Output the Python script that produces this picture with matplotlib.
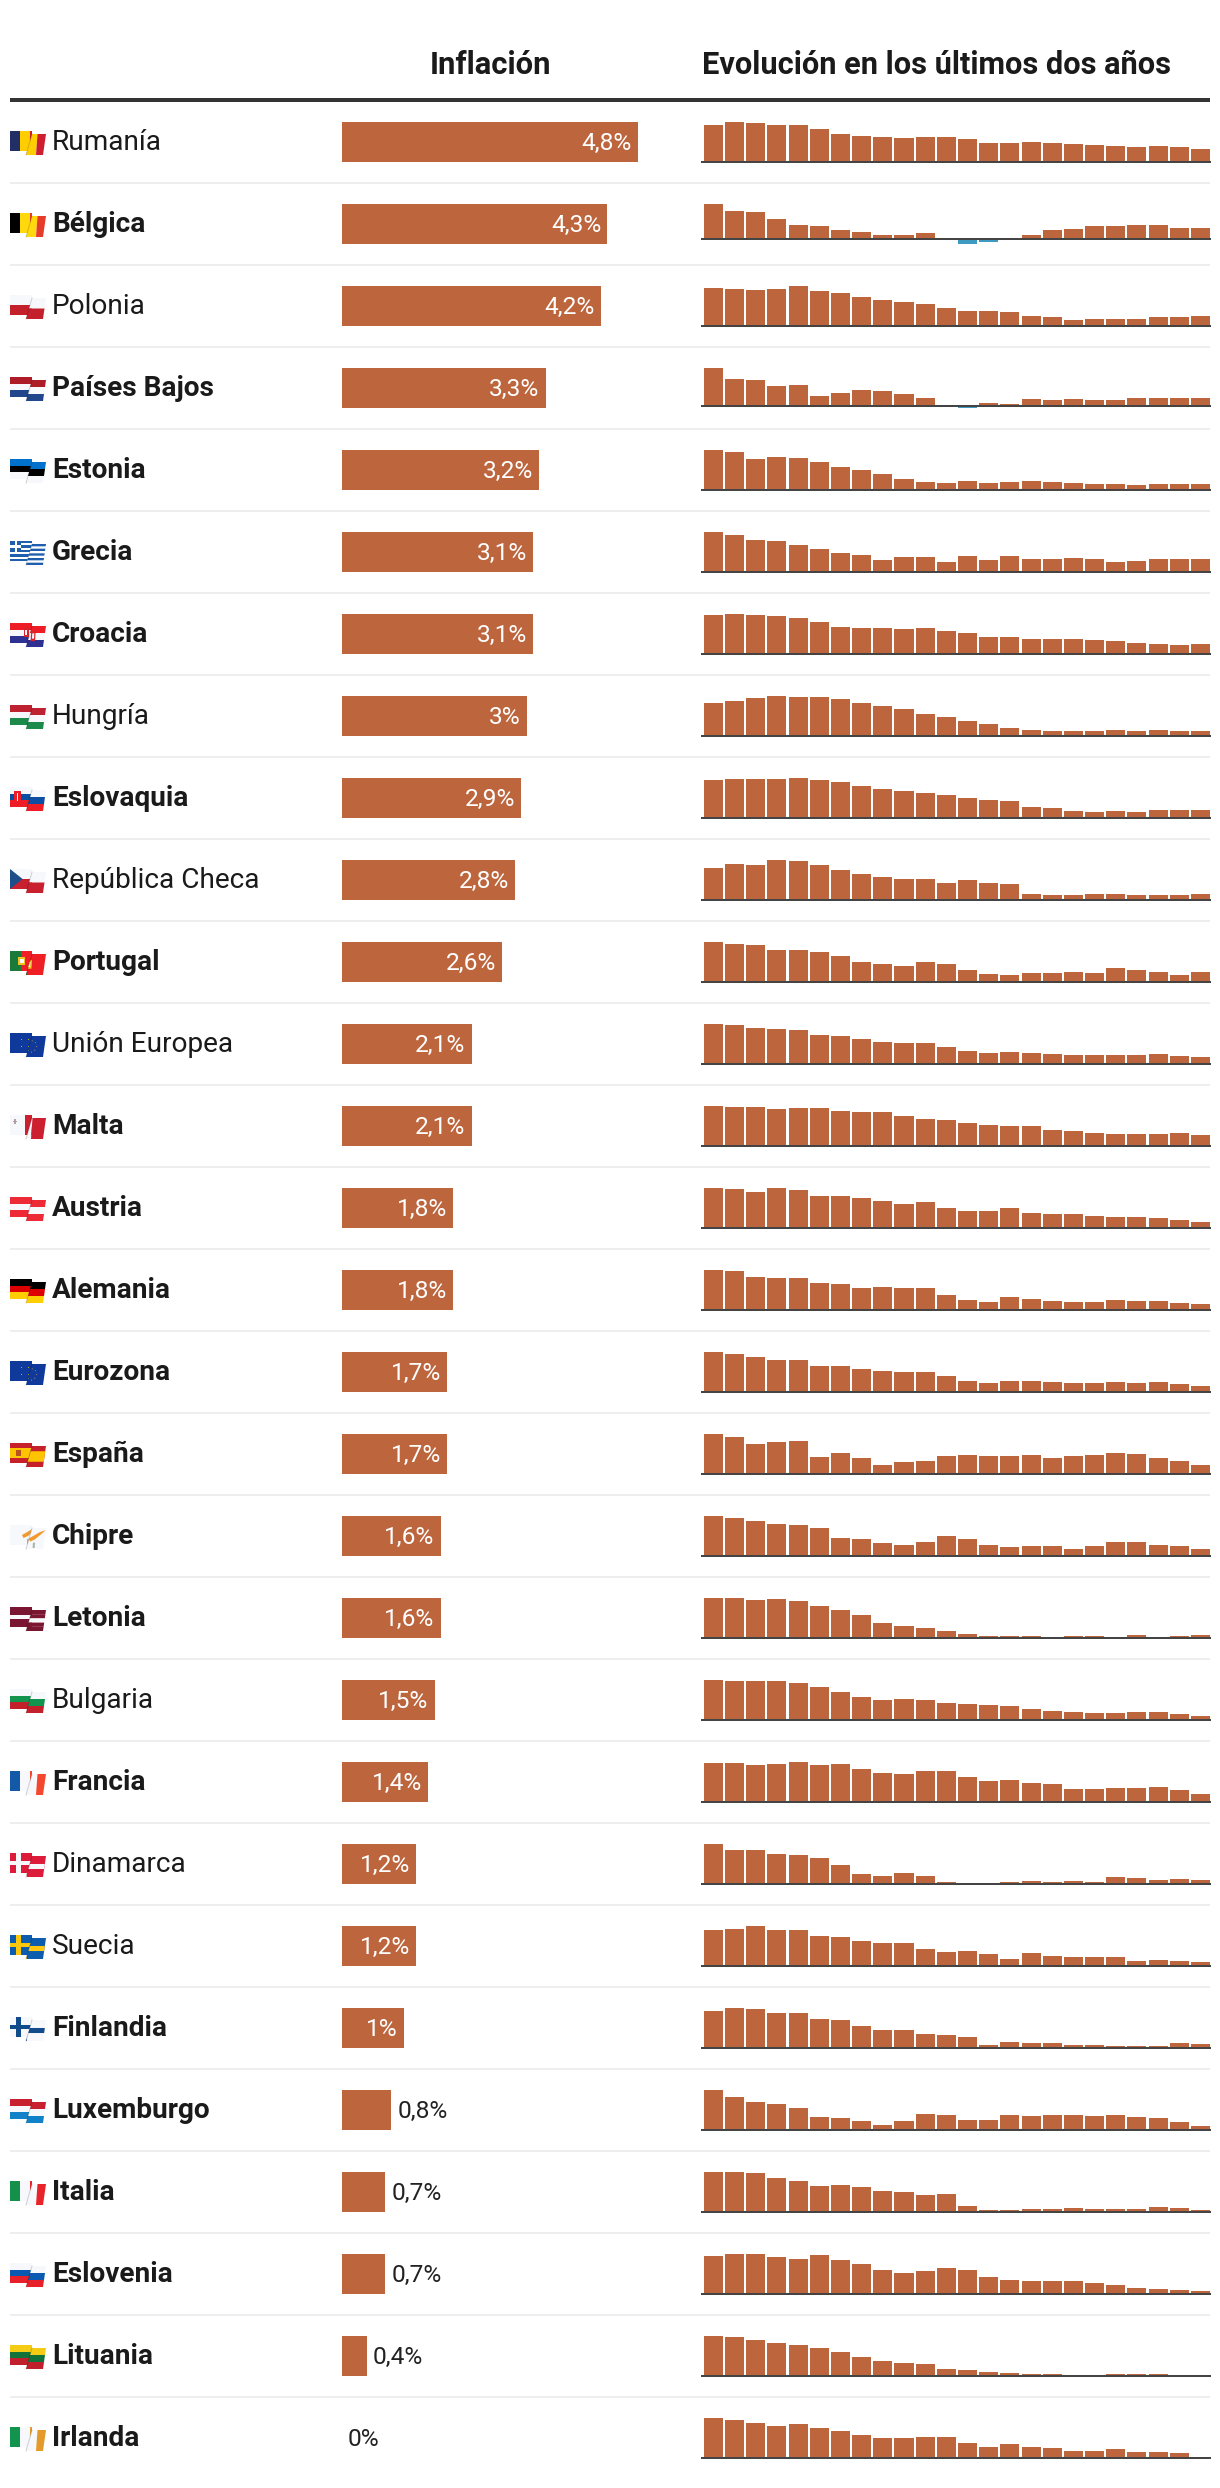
import matplotlib
matplotlib.use('Agg')
import matplotlib.pyplot as plt
from matplotlib.patches import Polygon

plt.rcParams['font.family'] = ['Roboto', 'DejaVu Sans']

# ======================================================================
# Data
# ======================================================================
countries = ['Rumanía', 'Bélgica', 'Polonia', 'Países Bajos', 'Estonia', 'Grecia', 'Croacia', 'Hungría',
             'Eslovaquia', 'República Checa', 'Portugal', 'Unión Europea', 'Malta', 'Austria', 'Alemania',
             'Eurozona', 'España', 'Chipre', 'Letonia', 'Bulgaria', 'Francia', 'Dinamarca', 'Suecia',
             'Finlandia', 'Luxemburgo', 'Italia', 'Eslovenia', 'Lituania', 'Irlanda']
regular_names = ['Rumanía', 'Polonia', 'Hungría', 'República Checa', 'Unión Europea', 'Bulgaria', 'Dinamarca', 'Suecia']
inflation = [4.8, 4.3, 4.2, 3.3, 3.2, 3.1, 3.1, 3.0, 2.9, 2.8, 2.6, 2.1, 2.1, 1.8, 1.8, 1.7, 1.7, 1.6, 1.6,
             1.5, 1.4, 1.2, 1.2, 1.0, 0.8, 0.7, 0.7, 0.4, 0.0]
inflation_labels = ['4,8%', '4,3%', '4,2%', '3,3%', '3,2%', '3,1%', '3,1%', '3%', '2,9%', '2,8%', '2,6%', '2,1%',
                    '2,1%', '1,8%', '1,8%', '1,7%', '1,7%', '1,6%', '1,6%', '1,5%', '1,4%', '1,2%', '1,2%', '1%',
                    '0,8%', '0,7%', '0,7%', '0,4%', '0%']

# Bar heights read off the sparklines (no axis in the picture, so relative units)
rumania = [37, 40, 39, 37, 37, 33, 28, 26, 25, 24, 25, 25, 23, 19, 19, 20, 19, 18, 17, 16, 15, 16, 15, 13]
belgica = [35, 28, 27, 20, 14, 13, 9, 7, 4, 4, 6, 0, -5, -3, 0, 4, 9, 10, 13, 13, 14, 14, 11, 11]
polonia = [38, 37, 36, 37, 40, 35, 33, 29, 26, 24, 22, 18, 15, 15, 14, 10, 9, 6, 7, 7, 7, 9, 9, 10]
paises_bajos = [37, 26, 25, 19, 20, 10, 13, 16, 15, 12, 8, 0, -2, 3, 2, 7, 6, 7, 6, 6, 8, 8, 8, 8]
estonia = [40, 38, 31, 33, 32, 28, 23, 20, 16, 11, 8, 7, 9, 7, 8, 9, 8, 7, 6, 6, 5, 6, 6, 6]
grecia = [40, 37, 32, 31, 27, 23, 19, 17, 12, 15, 15, 10, 16, 12, 16, 13, 13, 14, 13, 10, 11, 13, 13, 13]
croacia = [39, 40, 39, 38, 36, 32, 27, 26, 26, 25, 26, 23, 21, 17, 17, 15, 15, 15, 14, 13, 11, 10, 9, 10]
hungria = [33, 35, 38, 40, 39, 39, 37, 33, 30, 27, 22, 19, 15, 12, 8, 6, 5, 5, 5, 6, 5, 6, 5, 5]
eslovaquia = [38, 39, 39, 39, 40, 38, 36, 32, 29, 27, 25, 23, 20, 18, 17, 11, 10, 7, 6, 7, 6, 8, 8, 8]
rep_checa = [32, 36, 35, 40, 39, 35, 30, 26, 23, 21, 21, 17, 20, 17, 16, 6, 5, 5, 6, 6, 5, 5, 5, 6]
portugal = [40, 38, 37, 32, 32, 30, 26, 20, 18, 16, 20, 18, 12, 8, 7, 9, 9, 10, 9, 14, 12, 10, 7, 10]
union_europea = [40, 39, 36, 35, 34, 29, 28, 25, 22, 21, 21, 17, 13, 11, 12, 11, 10, 9, 9, 9, 9, 10, 8, 7]
malta = [40, 39, 39, 37, 38, 38, 35, 34, 34, 30, 27, 26, 23, 21, 20, 20, 16, 15, 13, 12, 12, 12, 13, 11]
austria = [40, 39, 36, 40, 38, 32, 32, 30, 27, 24, 26, 20, 17, 17, 20, 15, 14, 14, 12, 11, 11, 10, 8, 6]
alemania = [40, 39, 33, 32, 32, 27, 26, 22, 23, 22, 22, 15, 10, 8, 13, 11, 9, 8, 8, 10, 9, 9, 7, 6]
eurozona = [40, 38, 35, 32, 32, 26, 26, 23, 21, 20, 20, 16, 11, 9, 11, 11, 10, 9, 9, 10, 9, 10, 8, 6]
espana = [40, 37, 30, 32, 33, 17, 21, 16, 9, 12, 13, 18, 19, 18, 18, 19, 16, 18, 19, 21, 20, 16, 13, 9]
chipre = [40, 38, 35, 32, 31, 28, 18, 17, 13, 11, 14, 20, 17, 11, 9, 10, 10, 7, 10, 14, 14, 11, 10, 7]
letonia = [40, 40, 38, 39, 37, 32, 28, 23, 15, 12, 10, 7, 4, 2, 2, 2, 0, 2, 2, 0, 3, 0, 2, 3]
bulgaria = [40, 39, 39, 39, 37, 33, 28, 23, 20, 21, 20, 17, 16, 15, 14, 11, 9, 8, 7, 7, 8, 8, 6, 4]
francia = [39, 39, 37, 38, 40, 37, 38, 33, 29, 28, 31, 31, 25, 21, 22, 19, 18, 13, 13, 14, 14, 15, 12, 8]
dinamarca = [39, 33, 33, 29, 28, 25, 19, 10, 8, 11, 8, 2, 0, 0, 2, 3, 2, 3, 2, 7, 6, 4, 5, 4]
suecia = [36, 37, 40, 36, 36, 30, 29, 25, 23, 23, 17, 14, 15, 12, 7, 13, 10, 9, 9, 9, 5, 6, 5, 4]
finlandia = [37, 40, 39, 35, 35, 29, 28, 22, 18, 18, 14, 13, 11, 3, 6, 5, 5, 3, 3, 2, 2, 2, 5, 4]
luxemburgo = [40, 33, 28, 26, 22, 13, 12, 9, 5, 9, 16, 15, 10, 10, 15, 14, 15, 15, 14, 15, 13, 12, 8, 4]
italia = [40, 40, 39, 34, 31, 26, 27, 25, 21, 20, 17, 18, 6, 2, 2, 3, 3, 4, 3, 3, 3, 5, 4, 2]
eslovenia = [38, 40, 40, 37, 35, 39, 34, 30, 24, 21, 23, 26, 24, 17, 14, 13, 13, 13, 11, 9, 6, 5, 4, 3]
lituania = [40, 39, 36, 33, 31, 28, 24, 19, 15, 13, 12, 7, 6, 4, 3, 2, 2, 0, 0, 2, 2, 2, 0, 0]
irlanda = [40, 38, 35, 32, 34, 30, 27, 23, 20, 20, 21, 21, 15, 11, 14, 11, 10, 7, 7, 9, 6, 6, 5, 0]
evolution = [rumania, belgica, polonia, paises_bajos, estonia, grecia, croacia, hungria, eslovaquia, rep_checa,
             portugal, union_europea, malta, austria, alemania, eurozona, espana, chipre, letonia, bulgaria,
             francia, dinamarca, suecia, finlandia, luxemburgo, italia, eslovenia, lituania, irlanda]

# ======================================================================
# Style and layout (pixels)
# ======================================================================
WIDTH, HEIGHT = 1220, 2488
BAR_COLOR = '#BD653D'
NEG_COLOR = '#3F9AC2'
TEXT_COLOR = '#1a1a1a'
WHITE = '#f6f8fb'
ROW_PITCH = 82
FIRST_ROW = 142
BAR_HEIGHT = 40
PX = 0.72  # points per pixel at dpi 100


def add_axes_px(fig, x0, y0, x1, y1):
    return fig.add_axes([x0 / WIDTH, 1 - y1 / HEIGHT, (x1 - x0) / WIDTH, (y1 - y0) / HEIGHT])


# ======================================================================
# Flags: each one is a list of (colour, polygon) in a 0-1 square
# ======================================================================
def rect(u0, v0, u1, v1):
    return [(u0, v0), (u1, v0), (u1, v1), (u0, v1)]


def hstripes(*colors):
    n = len(colors)
    return [(c, rect(0, k / n, 1, (k + 1) / n)) for k, c in enumerate(colors)]


def vstripes(*colors):
    n = len(colors)
    return [(c, rect(k / n, 0, (k + 1) / n, 1)) for k, c in enumerate(colors)]


def nordic(field, cross, inner=None):
    layers = [(field, rect(0, 0, 1, 1)), (cross, rect(0.2, 0, 0.36, 1)), (cross, rect(0, 0.38, 1, 0.62))]
    if inner:
        layers += [(inner, rect(0.25, 0, 0.31, 1)), (inner, rect(0, 0.45, 1, 0.55))]
    return layers


def eu_flag():
    gold = [(0.5 + 0.055 * dx, 0.5 + 0.09 * dy) for dx, dy in [(0, -3), (2, -2), (3, 0), (2, 2), (0, 3), (-2, 2), (-3, 0), (-2, -2)]]
    layers = [('#0F3A9C', rect(0, 0, 1, 1))]
    for x, y in gold:
        layers.append(('#C9A63A', rect(x - 0.012, y - 0.025, x + 0.012, y + 0.025)))
    return layers


greece = [('#ffffff', rect(0, 0, 1, 1))]
for k in range(0, 9, 2):
    greece.append(('#1F5FAE', rect(0, k / 9, 1, (k + 1) / 9)))
greece += [('#1F5FAE', rect(0, 0, 0.38, 5 / 9)), ('#ffffff', rect(0.15, 0, 0.23, 5 / 9)), ('#ffffff', rect(0, 2 / 9, 0.38, 3 / 9))]

flags = [
    vstripes('#222E66', '#FFCE00', '#CE1F32'),
    vstripes('#000000', '#FFD90C', '#E63B2A'),
    hstripes(WHITE, '#C4202C'),
    hstripes('#AE1C28', WHITE, '#21468B'),
    hstripes('#0072CE', '#000000', WHITE),
    greece,
    hstripes('#EE1C25', WHITE, '#2E3192') + [('#D8232A', rect(0.47, 0.25, 0.62, 0.72)), (WHITE, rect(0.51, 0.35, 0.58, 0.6))],
    hstripes('#BE2130', WHITE, '#1B8A4A'),
    hstripes(WHITE, '#0B4EA2', '#EE1C25') + [('#EE1C25', rect(0.12, 0.2, 0.36, 0.8)), (WHITE, rect(0.22, 0.28, 0.26, 0.7))],
    hstripes(WHITE, '#C8202E') + [('#1D4E89', [(0, 0), (0.42, 0.5), (0, 1)])],
    [('#EE2025', rect(0, 0, 1, 1)), ('#1A7A3A', rect(0, 0, 0.37, 1)), ('#F0C420', rect(0.27, 0.3, 0.5, 0.7)), (WHITE, rect(0.32, 0.38, 0.45, 0.62))],
    eu_flag(),
    vstripes(WHITE, '#CC1F30') + [('#B0A0A0', rect(0.14, 0.2, 0.19, 0.45)), ('#B0A0A0', rect(0.1, 0.29, 0.23, 0.36))],
    hstripes('#EE2A36', WHITE, '#EE2A36'),
    hstripes('#000000', '#DD0000', '#FFCE00'),
    eu_flag(),
    [('#C6202A', rect(0, 0, 1, 1)), ('#FFC400', rect(0, 0.25, 1, 0.75)), ('#B5521E', rect(0.2, 0.35, 0.36, 0.65))],
    [(WHITE, rect(0, 0, 1, 1)), ('#F09A2D', [(0.4, 0.5), (0.75, 0.2), (0.95, 0.1), (0.8, 0.3), (0.6, 0.55), (0.45, 0.65)]),
     ('#A9B5A9', rect(0.55, 0.7, 0.62, 0.95))],
    hstripes('#7A1632', '#7A1632', WHITE, '#7A1632', '#7A1632'),
    hstripes(WHITE, '#12944F', '#C4202C'),
    vstripes('#1458A8', WHITE, '#F4472E'),
    nordic('#DD1C3C', WHITE),
    nordic('#0C5DAE', '#FFC80E'),
    nordic(WHITE, '#114B8C'),
    hstripes('#C8202E', WHITE, '#1181C8'),
    vstripes('#14904A', WHITE, '#E8232A'),
    hstripes(WHITE, '#0B59B0', '#E8202A'),
    hstripes('#F4CC14', '#12733A', '#C0202C'),
    vstripes('#12944F', WHITE, '#E49A2A'),
]


def draw_panel(ax, corners, to_px, layers):
    clip = Polygon(corners, closed=True, facecolor='none', edgecolor='none', transform=ax.transData)
    ax.add_patch(clip)
    for color, poly in layers:
        patch = Polygon([to_px(u, v) for u, v in poly], closed=True, facecolor=color, edgecolor='none')
        ax.add_patch(patch)
        patch.set_clip_path(clip)


def draw_flag(ax, top, layers):
    # the icon is a waving flag: a flat left piece and a skewed right piece a bit lower
    draw_panel(ax, [(10, top), (32, top), (32, top + 20), (10, top + 20)],
               lambda u, v: (10 + 30 * u, top + 20 * v), layers)
    draw_panel(ax, [(32, top + 3), (46, top + 3), (43, top + 24), (26, top + 24)],
               lambda u, v: (16 + 30 * u + 1.5 * (1 - v), top + 3 + 21 * v), layers)
    ax.plot([32, 26], [top + 3, top + 24], color='#000000', alpha=0.15, lw=0.8)


# ======================================================================
# Figure
# ======================================================================
fig = plt.figure(figsize=(WIDTH / 100, HEIGHT / 100), dpi=100, facecolor='white')

# Page layer in pixel coordinates: header, rules, names and flags
page = fig.add_axes([0, 0, 1, 1])
page.set_xlim(0, WIDTH)
page.set_ylim(HEIGHT, 0)
page.axis('off')

page.text(490, 74, 'Inflación', fontsize=31 * PX, fontweight='bold', color=TEXT_COLOR, ha='center', va='baseline')
page.text(702, 74, 'Evolución en los últimos dos años', fontsize=30.8 * PX, fontweight='bold', color=TEXT_COLOR,
          ha='left', va='baseline')
page.plot([10, 1210], [100, 100], color='#333333', lw=4 * PX, solid_capstyle='butt')

for i, name in enumerate(countries):
    center = FIRST_ROW + i * ROW_PITCH
    weight = 'regular' if name in regular_names else 'bold'
    page.text(52, center + 8, name, fontsize=28 * PX, fontweight=weight, color=TEXT_COLOR, ha='left', va='baseline')
    draw_flag(page, center - 11, flags[i])
    if i < len(countries) - 1:
        page.plot([10, 1210], [center + 41, center + 41], color='#eeeeee', lw=2 * PX, solid_capstyle='butt')

# Inflation bars
bars_ax = add_axes_px(fig, 342, FIRST_ROW - ROW_PITCH / 2, 640, FIRST_ROW + 28.5 * ROW_PITCH)
bars_ax.patch.set_alpha(0)
bars_ax.barh(range(len(inflation)), inflation, height=BAR_HEIGHT / ROW_PITCH, color=BAR_COLOR, linewidth=0)
bars_ax.set_xlim(0, 298 / 61.7)
bars_ax.set_ylim(len(inflation) - 0.5, -0.5)
bars_ax.axis('off')
for i, (value, label) in enumerate(zip(inflation, inflation_labels)):
    inside = value >= 1
    bars_ax.annotate(label, (value, i), xytext=((-6 if inside else 6) * PX, -8 * PX), textcoords='offset points',
                     ha='right' if inside else 'left', va='baseline', fontsize=24.5 * PX,
                     color='white' if inside else '#222222', annotation_clip=False)

# Sparklines: every row has its own scale, filling the same 40 px
for i, values in enumerate(evolution):
    top = FIRST_ROW - BAR_HEIGHT / 2 + i * ROW_PITCH
    ax = add_axes_px(fig, 702, top, 1210, top + BAR_HEIGHT)
    ax.patch.set_alpha(0)
    colors = [BAR_COLOR if v >= 0 else NEG_COLOR for v in values]
    ax.bar(range(len(values)), values, width=0.9, color=colors, linewidth=0)
    ax.set_xlim(-0.538, 23.45)
    ax.set_ylim(min(0, min(values)), max(values))
    ax.axhline(0, color='#444444', lw=2 * PX, clip_on=False, zorder=3)
    ax.axis('off')

plt.savefig('out.png', dpi=100)
